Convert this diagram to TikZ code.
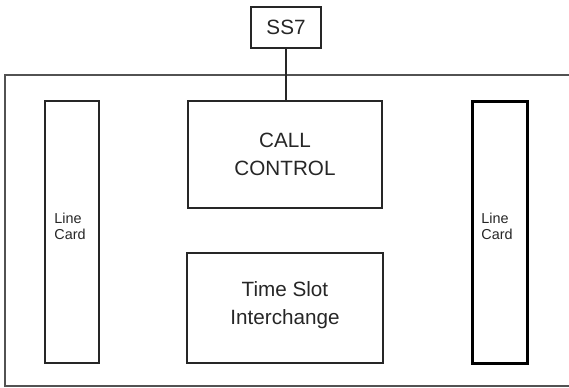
\documentclass[tikz,border=0pt]{standalone}
\usepackage{fontspec}
\setmainfont{Liberation Sans}
\begin{document}
\begin{tikzpicture}[x=0.75pt,y=-0.75pt,
  box/.style={draw=black!85, line width=0.8pt, fill=none, inner sep=0pt, text=black!85, align=center},
  bigtext/.style={font=\fontsize{15.5}{20.5}\selectfont},
  smalltext/.style={font=\fontsize{10.8}{12}\selectfont},
  frame/.style={draw=black!68, line width=1.1pt}]
\useasboundingbox (0,0) rectangle (569,388);
% SS7
\node[box, bigtext, minimum width=70*0.75pt, minimum height=41*0.75pt] (ss7) at (286,27.5) {SS7};
% outer frame (right side off the picture)
\coordinate (ftr) at (569,75);
\coordinate (ftl) at (5,75);
\coordinate (fbl) at (5,386);
\coordinate (fbr) at (569,386);
\draw[frame] (ftr) -- (ftl) -- (fbl) -- (fbr);
% call control
\node[box, minimum width=194*0.75pt, minimum height=107*0.75pt] (cc) at (285,154.5) {};
\node[bigtext, text=black!85, align=center] (cct) at (cc.center) {CALL\\CONTROL};
% time slot interchange
\node[box, minimum width=196*0.75pt, minimum height=110*0.75pt] (tsi) at (285,308) {};
\node[bigtext, text=black!85, align=center] (tsit) at (285,305) {Time Slot\\Interchange};
% line cards
\node[box, minimum width=54*0.75pt, minimum height=262*0.75pt] (lc1) at (72,232) {};
\node[smalltext, text=black!85, align=left] (lc1t) at (70,226) {Line\\Card};
\node[box, line width=1.6pt, draw=black, minimum width=55*0.75pt, minimum height=262*0.75pt] (lc2) at (500,232.5) {};
\node[smalltext, text=black!85, align=left] (lc2t) at (497,226) {Line\\Card};
% connector
\draw[black!85, line width=0.8pt] (ss7.south) -- (ss7.south |- cc.north);
\end{tikzpicture}
\end{document}
